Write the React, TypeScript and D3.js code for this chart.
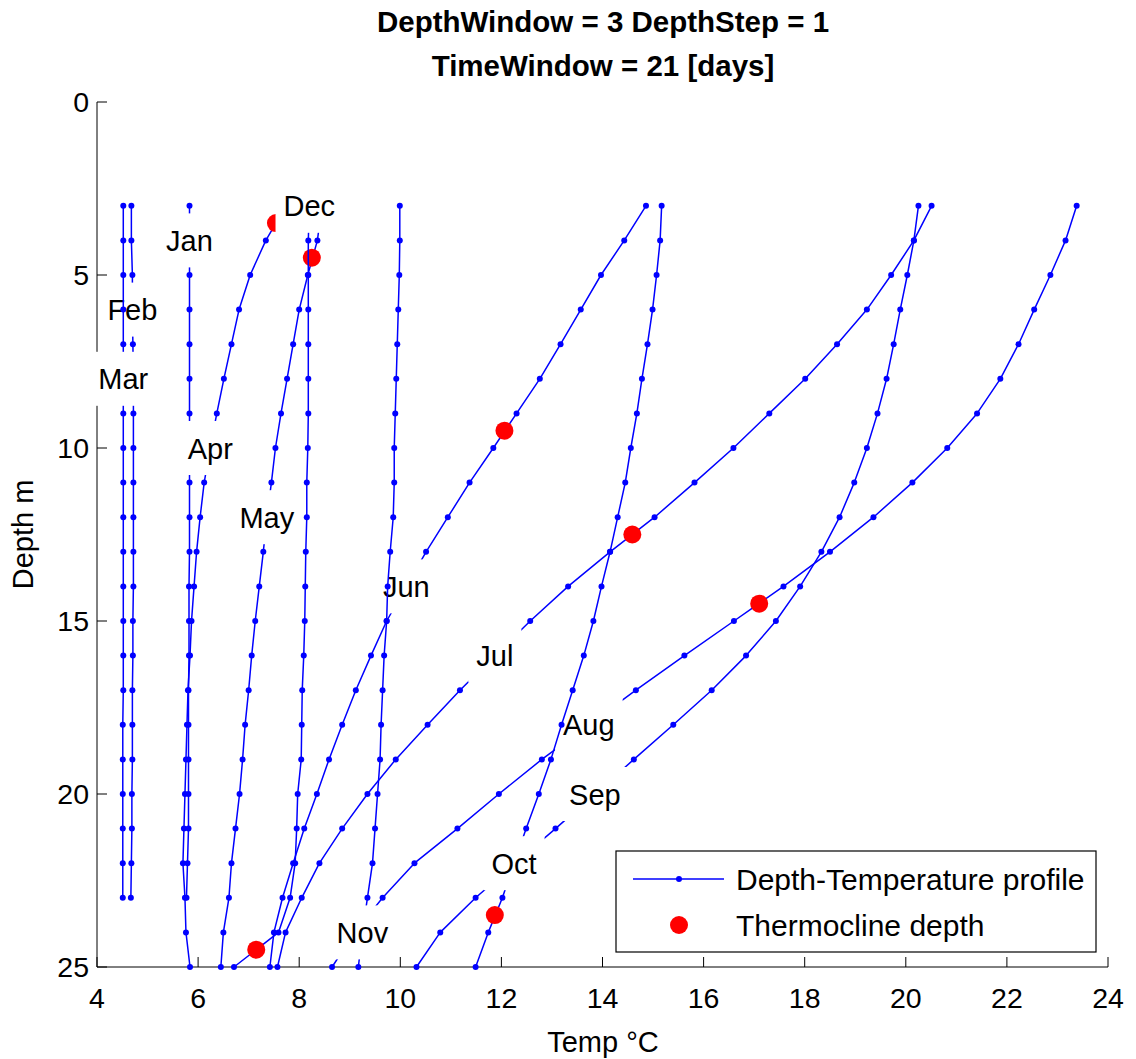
import React, { useEffect, useRef } from 'react';
import * as d3 from 'd3';

const W = 1136;
const H = 1059;

const TITLE_LINES = ['DepthWindow = 3 DepthStep = 1', 'TimeWindow = 21 [days]'];
const X_LABEL = 'Temp °C';
const Y_LABEL = 'Depth m';
const X_TICKS = [4, 6, 8, 10, 12, 14, 16, 18, 20, 22, 24];
const Y_TICKS = [0, 5, 10, 15, 20, 25];

const DEPTHS = [3, 4, 5, 6, 7, 8, 9, 10, 11, 12, 13, 14, 15, 16, 17, 18, 19, 20, 21, 22, 23, 24, 25];

const MONTHS = ['Jan', 'Feb', 'Mar', 'Apr', 'May', 'Jun', 'Jul', 'Aug', 'Sep', 'Oct', 'Nov', 'Dec'];

const JAN = [5.83, 5.83, 5.83, 5.83, 5.83, 5.83, 5.83, 5.83, 5.83, 5.83, 5.83, 5.82, 5.82, 5.82, 5.81, 5.81, 5.81, 5.81, 5.81, 5.79, 5.77];
const FEB = [4.68, 4.68, 4.70, 4.70, 4.71, 4.72, 4.72, 4.72, 4.72, 4.72, 4.72, 4.72, 4.71, 4.71, 4.70, 4.70, 4.70, 4.69, 4.69, 4.68, 4.67];
const MAR = [4.52, 4.52, 4.52, 4.52, 4.52, 4.52, 4.52, 4.52, 4.52, 4.52, 4.52, 4.52, 4.52, 4.52, 4.52, 4.51, 4.51, 4.51, 4.51, 4.51, 4.51];
const APR = [7.74, 7.34, 7.03, 6.81, 6.66, 6.51, 6.37, 6.24, 6.12, 6.04, 5.97, 5.92, 5.87, 5.84, 5.80, 5.78, 5.76, 5.74, 5.72, 5.70, 5.74, 5.76, 5.84];
const MAY = [8.45, 8.36, 8.17, 8.00, 7.88, 7.76, 7.64, 7.53, 7.45, 7.36, 7.29, 7.21, 7.13, 7.06, 7.00, 6.93, 6.88, 6.82, 6.74, 6.66, 6.61, 6.50, 6.45];
const JUN = [14.86, 14.43, 13.97, 13.57, 13.17, 12.76, 12.30, 11.84, 11.37, 10.94, 10.51, 10.12, 9.73, 9.42, 9.12, 8.85, 8.59, 8.35, 8.10, 7.88, 7.67, 7.50, 7.42];
const JUL = [20.51, 20.16, 19.71, 19.23, 18.64, 18.01, 17.30, 16.59, 15.82, 15.03, 14.15, 13.32, 12.57, 11.87, 11.18, 10.54, 9.91, 9.35, 8.85, 8.40, 8.05, 7.73, 7.57];
const AUG = [23.38, 23.16, 22.86, 22.54, 22.23, 21.87, 21.41, 20.82, 20.13, 19.36, 18.50, 17.58, 16.60, 15.62, 14.66, 13.73, 12.80, 11.95, 11.13, 10.28, 9.65, 9.10, 8.65];
const SEP = [20.25, 20.16, 20.03, 19.89, 19.76, 19.62, 19.44, 19.23, 18.98, 18.69, 18.33, 17.91, 17.43, 16.84, 16.16, 15.40, 14.62, 13.85, 13.07, 12.27, 11.49, 10.79, 10.32];
const OCT = [15.17, 15.14, 15.07, 14.99, 14.89, 14.78, 14.68, 14.56, 14.45, 14.30, 14.15, 13.98, 13.82, 13.63, 13.41, 13.19, 12.98, 12.74, 12.49, 12.25, 12.02, 11.74, 11.49];
const NOV = [9.99, 9.99, 9.98, 9.96, 9.94, 9.92, 9.90, 9.88, 9.88, 9.86, 9.80, 9.75, 9.73, 9.68, 9.65, 9.62, 9.60, 9.55, 9.50, 9.45, 9.35, 9.25, 9.17];
const DEC = [8.20, 8.18, 8.18, 8.18, 8.18, 8.18, 8.18, 8.17, 8.15, 8.15, 8.13, 8.12, 8.11, 8.09, 8.06, 8.05, 8.04, 7.97, 7.95, 7.92, 7.82, 7.59, 6.71];

const PROFILES = [JAN, FEB, MAR, APR, MAY, JUN, JUL, AUG, SEP, OCT, NOV, DEC];

// depth at which each month's label sits (label is centred on the profile at that depth)
const LABEL_DEPTH = [4, 6, 8, 10, 12, 14, 16, 18, 20, 22, 24, 3];

const THERMO_MONTH = ['Apr', 'May', 'Jun', 'Jul', 'Aug', 'Oct', 'Dec'];
const THERMO_DEPTH = [3.5, 4.5, 9.5, 12.5, 14.5, 23.5, 24.5];
const THERMO_TEMP = [7.54, 8.25, 12.06, 14.59, 17.10, 11.87, 7.15];

const LEGEND_ITEMS = ['Depth-Temperature profile', 'Thermocline depth'];

const BLUE = '#0000ff';
const RED = '#ff0000';
const FONT = '"Liberation Sans", Arial, Helvetica, sans-serif';

export default function App() {
  const ref = useRef<SVGSVGElement>(null);

  useEffect(() => {
    const svg = d3.select(ref.current);
    svg.selectAll('*').remove();

    const x = d3.scaleLinear().domain([4, 24]).range([97, 1108]);
    const y = d3.scaleLinear().domain([0, 25]).range([102, 967]);

    svg.append('rect').attr('x', 0).attr('y', 0).attr('width', W).attr('height', H).attr('fill', '#fff');

    // title
    TITLE_LINES.forEach((t, i) => {
      svg.append('text')
        .attr('x', 603).attr('y', 32 + i * 44)
        .attr('text-anchor', 'middle')
        .attr('font-family', FONT).attr('font-weight', 'bold').attr('font-size', 29.5)
        .attr('fill', '#000')
        .text(t);
    });

    const g = svg.append('g');

    // axes
    g.append('line').attr('x1', x(4)).attr('x2', x(4)).attr('y1', y(0)).attr('y2', y(25))
      .attr('stroke', '#000').attr('stroke-width', 1);
    g.append('line').attr('x1', x(4)).attr('x2', x(24)).attr('y1', y(25)).attr('y2', y(25))
      .attr('stroke', '#000').attr('stroke-width', 1);

    Y_TICKS.forEach((v) => {
      g.append('line').attr('x1', x(4)).attr('x2', x(4) + 10).attr('y1', y(v)).attr('y2', y(v))
        .attr('stroke', '#000').attr('stroke-width', 1);
      g.append('text').attr('x', 89).attr('y', y(v) + 10)
        .attr('text-anchor', 'end').attr('font-family', FONT).attr('font-size', 28.5).attr('fill', '#000')
        .text(String(v));
    });
    X_TICKS.forEach((v) => {
      g.append('line').attr('x1', x(v)).attr('x2', x(v)).attr('y1', y(25)).attr('y2', y(25) - 10)
        .attr('stroke', '#000').attr('stroke-width', 1);
      g.append('text').attr('x', x(v)).attr('y', 1008)
        .attr('text-anchor', 'middle').attr('font-family', FONT).attr('font-size', 28.5).attr('fill', '#000')
        .text(String(v));
    });

    g.append('text').attr('x', 603).attr('y', 1052)
      .attr('text-anchor', 'middle').attr('font-family', FONT).attr('font-size', 29).attr('fill', '#000')
      .text(X_LABEL);
    g.append('text')
      .attr('transform', `translate(33, ${(y(0) + y(25)) / 2}) rotate(-90)`)
      .attr('text-anchor', 'middle').attr('font-family', FONT).attr('font-size', 29).attr('fill', '#000')
      .text(Y_LABEL);

    const line = d3.line<[number, number]>().x((d) => x(d[0])).y((d) => y(d[1]));

    PROFILES.forEach((vals, i) => {
      const pts: [number, number][] = vals.map((t, k) => [t, DEPTHS[k]]);
      const pg = g.append('g');
      pg.append('path').attr('d', line(pts) as string)
        .attr('fill', 'none').attr('stroke', BLUE).attr('stroke-width', 1.5).attr('stroke-linejoin', 'round');
      pg.selectAll('circle.m').data(pts).enter().append('circle')
        .attr('class', 'm')
        .attr('cx', (d) => x(d[0])).attr('cy', (d) => y(d[1])).attr('r', 3).attr('fill', BLUE);

      const ti = THERMO_MONTH.indexOf(MONTHS[i]);
      if (ti >= 0) {
        pg.append('circle').attr('cx', x(THERMO_TEMP[ti])).attr('cy', y(THERMO_DEPTH[ti]))
          .attr('r', 9).attr('fill', RED);
      }

      const ld = LABEL_DEPTH[i];
      const lt = vals[DEPTHS.indexOf(ld)];
      const lg = g.append('g');
      const rect = lg.append('rect').attr('fill', '#fff');
      const text = lg.append('text')
        .attr('x', x(lt)).attr('y', y(ld) + 10.5)
        .attr('text-anchor', 'middle').attr('font-family', FONT).attr('font-size', 29).attr('fill', '#000')
        .text(MONTHS[i]);
      const tw = (text.node() as SVGTextElement).getComputedTextLength();
      rect.attr('x', x(lt) - tw / 2 - 8).attr('y', y(ld) - 27)
        .attr('width', tw + 16).attr('height', 54);
    });

    // legend
    const lg = svg.append('g');
    lg.append('rect').attr('x', 616).attr('y', 851).attr('width', 480).attr('height', 101)
      .attr('fill', '#fff').attr('stroke', '#000').attr('stroke-width', 1.2);
    lg.append('line').attr('x1', 633).attr('x2', 724).attr('y1', 879).attr('y2', 879)
      .attr('stroke', BLUE).attr('stroke-width', 1.4);
    lg.append('circle').attr('cx', 679).attr('cy', 879).attr('r', 3).attr('fill', BLUE);
    lg.append('circle').attr('cx', 679).attr('cy', 925).attr('r', 9).attr('fill', RED);
    LEGEND_ITEMS.forEach((t, i) => {
      lg.append('text').attr('x', 736).attr('y', 890 + i * 46)
        .attr('font-family', FONT).attr('font-size', 30).attr('fill', '#000')
        .text(t);
    });
  }, []);

  return (
    <svg
      ref={ref}
      width={W}
      height={H}
      viewBox={`0 0 ${W} ${H}`}
      style={{ position: 'absolute', left: 0, top: 0, display: 'block' }}
    />
  );
}
